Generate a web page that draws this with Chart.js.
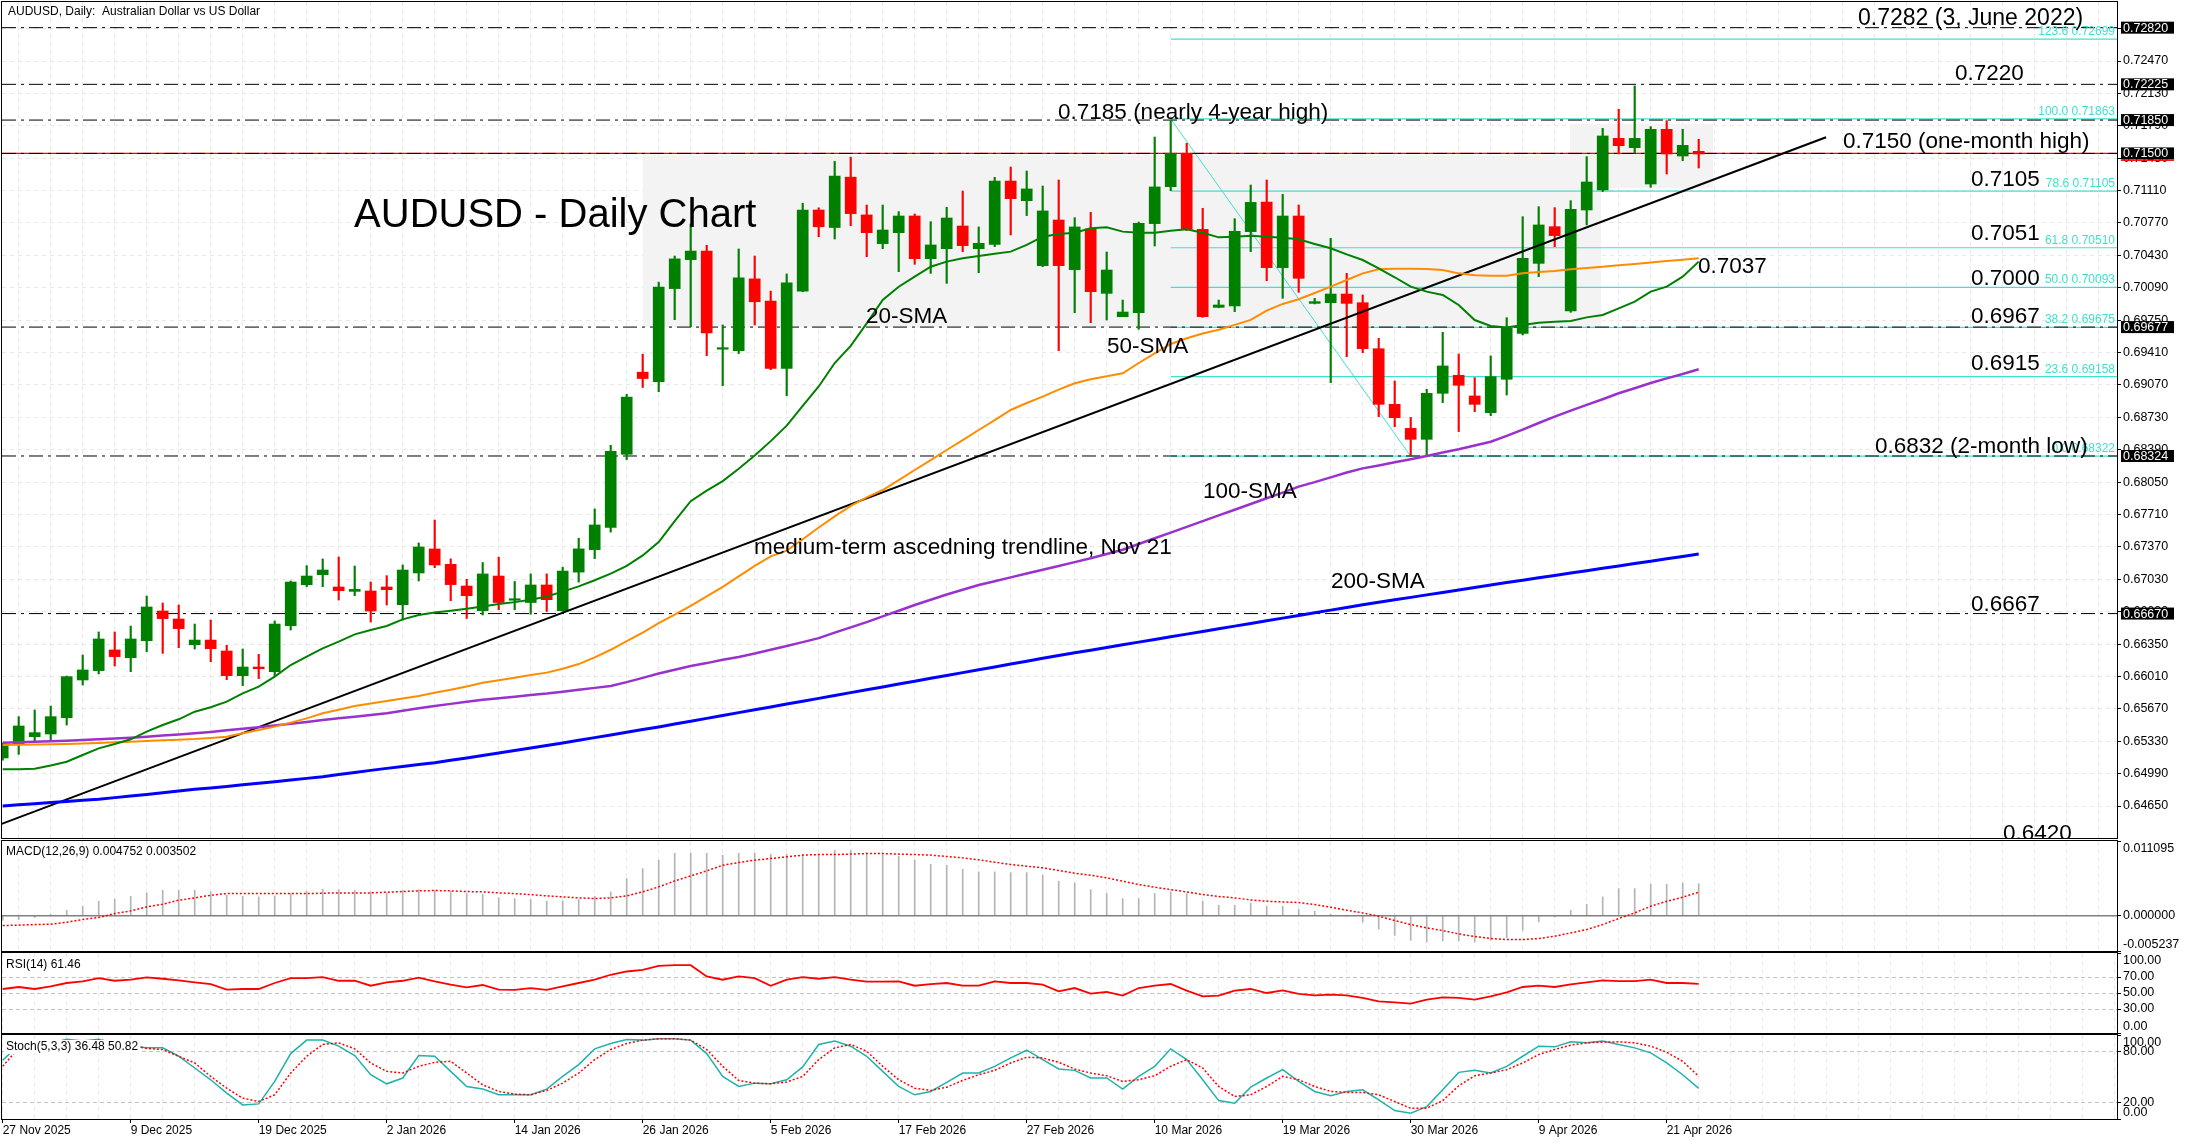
<!DOCTYPE html>
<html>
<head>
<meta charset="utf-8">
<script src="https://cdn.jsdelivr.net/npm/chart.js@4.4.1/dist/chart.umd.min.js"></script>
<style>
  body { margin: 0; background: #fff; }
  #wrap { position: relative; width: 2187px; height: 1143px; overflow: hidden; background: #fff; }
  canvas { position: absolute; left: 0; }
</style>
</head>
<body>
<div id="wrap">
  <canvas id="main" width="2187" height="840" style="top:0;width:2187px;height:840px"></canvas>
  <canvas id="macd" width="2187" height="112" style="top:840px;width:2187px;height:112px"></canvas>
  <canvas id="rsi" width="2187" height="82" style="top:952px;width:2187px;height:82px"></canvas>
  <canvas id="stoch" width="2187" height="109" style="top:1034px;width:2187px;height:109px"></canvas>
</div>
<script>
// daily bars, 27 Nov 2025 .. 23 Apr 2026
const dateLabels = ['27 Nov 2025', '9 Dec 2025', '19 Dec 2025', '2 Jan 2026', '14 Jan 2026', '26 Jan 2026',
  '5 Feb 2026', '17 Feb 2026', '27 Feb 2026', '10 Mar 2026', '19 Mar 2026', '30 Mar 2026', '9 Apr 2026', '21 Apr 2026'];

const opens = [
  0.65154, 0.65301, 0.65378, 0.65406, 0.65577, 0.65973, 0.66071, 0.66288, 0.66207, 0.66385,
  0.66697, 0.66613, 0.66343, 0.66392, 0.66277, 0.66018, 0.66109, 0.66060, 0.66543, 0.66973,
  0.67078, 0.66949, 0.66903, 0.66907, 0.66949, 0.66763, 0.67096, 0.67348, 0.67187, 0.66959,
  0.66700, 0.67064, 0.66810, 0.66786, 0.66970, 0.66700, 0.67105, 0.67341, 0.67574, 0.68342,
  0.69204, 0.69103, 0.70081, 0.70385, 0.70475, 0.69445, 0.69429, 0.70183, 0.69950, 0.69242,
  0.70055, 0.70906, 0.70722, 0.71251, 0.70854, 0.70553, 0.70668, 0.70843, 0.70395, 0.70500,
  0.70738, 0.70500, 0.70546, 0.71210, 0.71004, 0.70322, 0.70801, 0.70280, 0.70707, 0.70031,
  0.69786, 0.69828, 0.70763, 0.71151, 0.71501, 0.70703, 0.69884, 0.69898, 0.70679, 0.70990,
  0.70301, 0.70843, 0.69926, 0.69933, 0.70024, 0.69933, 0.69450, 0.68866, 0.68614, 0.68499,
  0.68982, 0.69171, 0.68954, 0.68779, 0.69129, 0.69611, 0.70346, 0.70731, 0.69846, 0.70906,
  0.71116, 0.71658, 0.71560, 0.71179, 0.71753, 0.71473, 0.71522];
const highs = [
  0.65310, 0.65588, 0.65658, 0.65700, 0.66014, 0.66235, 0.66477, 0.66477, 0.66539, 0.66854,
  0.66781, 0.66760, 0.66560, 0.66602, 0.66337, 0.66298, 0.66242, 0.66592, 0.67012, 0.67173,
  0.67243, 0.67264, 0.67169, 0.67001, 0.67068, 0.67180, 0.67411, 0.67652, 0.67244, 0.67030,
  0.67206, 0.67262, 0.67007, 0.67086, 0.67086, 0.67157, 0.67461, 0.67768, 0.68436, 0.68972,
  0.69392, 0.70149, 0.70423, 0.70760, 0.70535, 0.69699, 0.70497, 0.70423, 0.70055, 0.70235,
  0.70977, 0.70929, 0.71416, 0.71461, 0.70958, 0.70958, 0.70889, 0.70864, 0.70784, 0.70934,
  0.71105, 0.70728, 0.71249, 0.71357, 0.71315, 0.71158, 0.71221, 0.70826, 0.70882, 0.70465,
  0.69961, 0.70780, 0.71672, 0.71844, 0.71606, 0.70924, 0.69961, 0.70815, 0.71168, 0.71221,
  0.71070, 0.70959, 0.69979, 0.70609, 0.70241, 0.70014, 0.69559, 0.69111, 0.68730, 0.69024,
  0.69622, 0.69395, 0.69146, 0.69374, 0.69776, 0.70836, 0.70941, 0.70931, 0.71004, 0.71466,
  0.71763, 0.71963, 0.72208, 0.71781, 0.71844, 0.71753, 0.71648];
const lows = [
  0.65130, 0.65192, 0.65336, 0.65343, 0.65500, 0.65920, 0.66036, 0.66120, 0.66060, 0.66270,
  0.66252, 0.66312, 0.66298, 0.66165, 0.65976, 0.65913, 0.65987, 0.66008, 0.66497, 0.66952,
  0.66952, 0.66812, 0.66858, 0.66581, 0.66760, 0.66602, 0.67012, 0.67152, 0.66805, 0.66618,
  0.66655, 0.66711, 0.66711, 0.66663, 0.66692, 0.66692, 0.67000, 0.67247, 0.67525, 0.68286,
  0.69043, 0.68998, 0.69755, 0.69680, 0.69377, 0.69062, 0.69399, 0.69699, 0.69230, 0.68957,
  0.70048, 0.70625, 0.70602, 0.70741, 0.70416, 0.70500, 0.70259, 0.70336, 0.70241, 0.70136,
  0.70469, 0.70248, 0.70521, 0.70644, 0.70847, 0.70311, 0.69430, 0.69828, 0.69723, 0.69751,
  0.69786, 0.69653, 0.70528, 0.71109, 0.70690, 0.69779, 0.69880, 0.69839, 0.70469, 0.70164,
  0.69979, 0.70042, 0.69920, 0.69094, 0.69366, 0.69408, 0.68737, 0.68632, 0.68324, 0.68335,
  0.68884, 0.68580, 0.68789, 0.68747, 0.68964, 0.69594, 0.70206, 0.70521, 0.69832, 0.70749,
  0.71099, 0.71494, 0.71501, 0.71144, 0.71284, 0.71424, 0.71347];
const closes = [
  0.65290, 0.65490, 0.65420, 0.65588, 0.66008, 0.66078, 0.66403, 0.66218, 0.66403, 0.66739,
  0.66617, 0.66511, 0.66392, 0.66301, 0.66018, 0.66109, 0.66091, 0.66560, 0.67001, 0.67064,
  0.67127, 0.66910, 0.66924, 0.66697, 0.66921, 0.67127, 0.67369, 0.67180, 0.66974, 0.66858,
  0.67086, 0.66786, 0.66824, 0.66970, 0.66816, 0.67116, 0.67349, 0.67600, 0.68372, 0.68942,
  0.69137, 0.70096, 0.70393, 0.70475, 0.69616, 0.69460, 0.70194, 0.69943, 0.69242, 0.70141,
  0.70906, 0.70730, 0.71262, 0.70868, 0.70668, 0.70696, 0.70843, 0.70395, 0.70539, 0.70822,
  0.70532, 0.70556, 0.71210, 0.71025, 0.71127, 0.70896, 0.70322, 0.70728, 0.70049, 0.70276,
  0.69835, 0.70766, 0.71148, 0.71501, 0.70703, 0.69786, 0.69909, 0.70682, 0.70986, 0.70301,
  0.70843, 0.70189, 0.69944, 0.70024, 0.69926, 0.69450, 0.68866, 0.68726, 0.68499, 0.68982,
  0.69269, 0.69066, 0.68866, 0.69157, 0.69664, 0.70399, 0.70749, 0.70637, 0.70913, 0.71200,
  0.71683, 0.71581, 0.71658, 0.71753, 0.71494, 0.71585, 0.71494];

const sma20 = [
  0.65035, 0.65035, 0.65040, 0.65075, 0.65115, 0.65185, 0.65255, 0.65300, 0.65350, 0.65430,
  0.65500, 0.65560, 0.65640, 0.65686, 0.65745, 0.65833, 0.65903, 0.66008, 0.66130, 0.66218,
  0.66305, 0.66375, 0.66452, 0.66497, 0.66539, 0.66609, 0.66655, 0.66680, 0.66700, 0.66720,
  0.66745, 0.66770, 0.66790, 0.66815, 0.66850, 0.66900, 0.66955, 0.67020, 0.67090, 0.67170,
  0.67280, 0.67420, 0.67640, 0.67850, 0.67960, 0.68060, 0.68190, 0.68330, 0.68480, 0.68642,
  0.68850, 0.69054, 0.69300, 0.69480, 0.69716, 0.69961, 0.70101, 0.70206, 0.70311, 0.70364,
  0.70399, 0.70423, 0.70446, 0.70469, 0.70539, 0.70626, 0.70654, 0.70668, 0.70714, 0.70724,
  0.70679, 0.70668, 0.70668, 0.70689, 0.70703, 0.70668, 0.70619, 0.70626, 0.70636, 0.70626,
  0.70615, 0.70598, 0.70550, 0.70504, 0.70440, 0.70381, 0.70294, 0.70200, 0.70101, 0.70049,
  0.70014, 0.69909, 0.69751, 0.69688, 0.69674, 0.69699, 0.69723, 0.69734, 0.69740, 0.69779,
  0.69804, 0.69874, 0.69944, 0.70049, 0.70101, 0.70206, 0.70364];
const sma50 = [
  0.65290, 0.65293, 0.65296, 0.65299, 0.65301, 0.65306, 0.65312, 0.65318, 0.65325, 0.65332,
  0.65339, 0.65346, 0.65353, 0.65365, 0.65378, 0.65413, 0.65448, 0.65483, 0.65525, 0.65570,
  0.65623, 0.65660, 0.65700, 0.65726, 0.65752, 0.65778, 0.65805, 0.65838, 0.65870, 0.65905,
  0.65943, 0.65970, 0.65997, 0.66025, 0.66050, 0.66090, 0.66140, 0.66210, 0.66290, 0.66380,
  0.66470, 0.66570, 0.66660, 0.66750, 0.66850, 0.66950, 0.67060, 0.67170, 0.67270, 0.67330,
  0.67450, 0.67574, 0.67690, 0.67800, 0.67890, 0.67967, 0.68070, 0.68177, 0.68280, 0.68387,
  0.68490, 0.68597, 0.68700, 0.68807, 0.68880, 0.68947, 0.69020, 0.69087, 0.69130, 0.69160,
  0.69192, 0.69300, 0.69400, 0.69500, 0.69560, 0.69610, 0.69650, 0.69700, 0.69752, 0.69850,
  0.69920, 0.69969, 0.70035, 0.70101, 0.70171, 0.70241, 0.70283, 0.70290, 0.70290, 0.70286,
  0.70276, 0.70241, 0.70220, 0.70215, 0.70215, 0.70241, 0.70255, 0.70266, 0.70283, 0.70297,
  0.70311, 0.70325, 0.70339, 0.70355, 0.70371, 0.70385, 0.70399];
const sma100 = [
  0.65315, 0.65320, 0.65325, 0.65330, 0.65336, 0.65343, 0.65351, 0.65359, 0.65367, 0.65378,
  0.65390, 0.65401, 0.65413, 0.65428, 0.65444, 0.65460, 0.65476, 0.65495, 0.65514, 0.65533,
  0.65553, 0.65570, 0.65588, 0.65605, 0.65623, 0.65650, 0.65675, 0.65700, 0.65722, 0.65744,
  0.65765, 0.65781, 0.65797, 0.65814, 0.65830, 0.65850, 0.65870, 0.65890, 0.65910, 0.65950,
  0.65995, 0.66040, 0.66080, 0.66120, 0.66150, 0.66185, 0.66215, 0.66250, 0.66290, 0.66330,
  0.66370, 0.66412, 0.66470, 0.66525, 0.66580, 0.66640, 0.66700, 0.66760, 0.66815, 0.66870,
  0.66920, 0.66970, 0.67010, 0.67050, 0.67090, 0.67130, 0.67170, 0.67210, 0.67250, 0.67295,
  0.67340, 0.67400, 0.67460, 0.67520, 0.67580, 0.67640, 0.67700, 0.67760, 0.67820, 0.67880,
  0.67940, 0.68002, 0.68050, 0.68100, 0.68150, 0.68194, 0.68225, 0.68258, 0.68290, 0.68324,
  0.68360, 0.68395, 0.68435, 0.68474, 0.68535, 0.68600, 0.68670, 0.68737, 0.68800, 0.68860,
  0.68920, 0.68982, 0.69035, 0.69090, 0.69139, 0.69185, 0.69234];
const sma200 = [
  0.64650, 0.64662, 0.64674, 0.64686, 0.64698, 0.64710, 0.64722, 0.64738, 0.64755, 0.64772,
  0.64790, 0.64808, 0.64825, 0.64840, 0.64856, 0.64872, 0.64888, 0.64905, 0.64922, 0.64940,
  0.64958, 0.64980, 0.65002, 0.65024, 0.65045, 0.65065, 0.65085, 0.65105, 0.65130, 0.65155,
  0.65180, 0.65206, 0.65232, 0.65258, 0.65285, 0.65312, 0.65340, 0.65368, 0.65396, 0.65424,
  0.65452, 0.65480, 0.65510, 0.65540, 0.65570, 0.65600, 0.65630, 0.65660, 0.65690, 0.65720,
  0.65750, 0.65780, 0.65810, 0.65840, 0.65870, 0.65900, 0.65930, 0.65960, 0.65990, 0.66020,
  0.66050, 0.66080, 0.66110, 0.66140, 0.66170, 0.66200, 0.66230, 0.66258, 0.66286, 0.66314,
  0.66342, 0.66370, 0.66398, 0.66426, 0.66454, 0.66482, 0.66510, 0.66538, 0.66566, 0.66594,
  0.66622, 0.66650, 0.66678, 0.66706, 0.66734, 0.66762, 0.66788, 0.66814, 0.66840, 0.66866,
  0.66892, 0.66918, 0.66944, 0.66970, 0.66995, 0.67020, 0.67045, 0.67070, 0.67095, 0.67120,
  0.67145, 0.67170, 0.67195, 0.67220, 0.67245, 0.67270, 0.67295];

const macdMain = [
  -0.00070, -0.00057, -0.00027, 0.00020, 0.00079, 0.00140, 0.00215, 0.00245, 0.00289, 0.00339,
  0.00378, 0.00378, 0.00378, 0.00354, 0.00304, 0.00289, 0.00280, 0.00294, 0.00329, 0.00364,
  0.00393, 0.00388, 0.00378, 0.00354, 0.00339, 0.00378, 0.00388, 0.00378, 0.00364, 0.00329,
  0.00319, 0.00265, 0.00255, 0.00240, 0.00215, 0.00215, 0.00240, 0.00289, 0.00354, 0.00552,
  0.00701, 0.00825, 0.00928, 0.00928, 0.00928, 0.00899, 0.00928, 0.00928, 0.00913, 0.00913,
  0.00899, 0.00913, 0.00973, 0.00973, 0.00933, 0.00908, 0.00884, 0.00825, 0.00765, 0.00750,
  0.00690, 0.00651, 0.00651, 0.00641, 0.00641, 0.00601, 0.00512, 0.00487, 0.00388, 0.00329,
  0.00255, 0.00255, 0.00329, 0.00354, 0.00329, 0.00215, 0.00156, 0.00156, 0.00190, 0.00140,
  0.00140, 0.00091, 0.00067, 0.00022, -0.00010, -0.00094, -0.00198, -0.00292, -0.00366, -0.00391,
  -0.00376, -0.00376, -0.00391, -0.00366, -0.00327, -0.00218, -0.00094, -0.00020, 0.00081, 0.00170,
  0.00280, 0.00403, 0.00403, 0.00468, 0.00468, 0.00487, 0.00475];
const macdSignal = [
  -0.00146, -0.00140, -0.00131, -0.00126, -0.00096, -0.00057, -0.00027, 0.00032, 0.00072, 0.00131,
  0.00171, 0.00230, 0.00265, 0.00304, 0.00329, 0.00329, 0.00329, 0.00329, 0.00329, 0.00329,
  0.00334, 0.00339, 0.00339, 0.00339, 0.00349, 0.00359, 0.00369, 0.00374, 0.00369, 0.00359,
  0.00354, 0.00339, 0.00329, 0.00314, 0.00294, 0.00280, 0.00265, 0.00255, 0.00265, 0.00294,
  0.00354, 0.00428, 0.00517, 0.00591, 0.00666, 0.00750, 0.00790, 0.00825, 0.00850, 0.00874,
  0.00900, 0.00908, 0.00908, 0.00915, 0.00923, 0.00923, 0.00915, 0.00908, 0.00900, 0.00879,
  0.00859, 0.00830, 0.00795, 0.00760, 0.00736, 0.00711, 0.00672, 0.00632, 0.00602, 0.00562,
  0.00513, 0.00463, 0.00423, 0.00388, 0.00354, 0.00314, 0.00285, 0.00265, 0.00235, 0.00215,
  0.00205, 0.00196, 0.00166, 0.00126, 0.00082, 0.00042, -0.00007, -0.00072, -0.00131, -0.00181,
  -0.00220, -0.00270, -0.00309, -0.00339, -0.00354, -0.00354, -0.00339, -0.00304, -0.00255, -0.00205,
  -0.00131, -0.00042, 0.00042, 0.00141, 0.00215, 0.00275, 0.00350];

const rsi14 = [
  55.0, 57.5, 55.0, 58.3, 62.5, 64.5, 68.6, 65.3, 66.6, 69.5,
  67.8, 65.7, 63.3, 61.2, 54.2, 55.0, 55.0, 62.5, 68.6, 68.6,
  69.9, 65.3, 65.3, 59.1, 63.3, 65.3, 69.1, 64.5, 60.4, 57.1,
  60.0, 54.2, 53.8, 56.2, 53.8, 58.3, 62.5, 66.6, 72.8, 76.9,
  79.0, 84.0, 84.8, 84.8, 70.7, 66.6, 70.7, 68.6, 59.1, 66.6,
  69.9, 67.8, 69.9, 66.6, 64.1, 64.1, 64.5, 59.1, 61.2, 62.5,
  59.1, 59.1, 64.5, 62.5, 62.5, 60.4, 52.1, 56.2, 49.2, 51.3,
  46.7, 56.2, 59.1, 61.2, 52.9, 45.9, 46.7, 52.9, 55.0, 50.0,
  53.3, 48.8, 47.1, 47.9, 47.1, 43.8, 39.6, 38.4, 36.7, 41.7,
  44.6, 43.8, 41.7, 45.9, 50.9, 57.5, 59.1, 57.5, 60.8, 63.3,
  65.7, 64.9, 64.9, 66.6, 62.5, 62.5, 61.46];

const stochK = [
  70.0, 88.0, 85.0, 90.0, 95.0, 93.0, 95.0, 88.0, 87.0, 84.7,
  84.7, 74.7, 60.7, 46.7, 30.8, 16.8, 18.0, 44.7, 77.9, 93.9,
  93.9, 86.7, 75.5, 52.7, 41.9, 48.8, 75.5, 74.7, 56.7, 38.7,
  35.6, 28.8, 28.8, 28.8, 35.6, 50.7, 64.7, 83.5, 89.9, 94.7,
  93.9, 95.5, 95.5, 93.9, 77.9, 50.7, 38.7, 42.7, 41.9, 46.7,
  62.0, 88.7, 92.7, 86.7, 74.7, 56.7, 38.7, 28.8, 32.8, 43.5,
  54.7, 54.7, 62.7, 72.7, 81.9, 70.7, 59.5, 57.9, 48.8, 48.8,
  35.6, 50.7, 62.7, 83.5, 70.7, 46.7, 21.9, 18.8, 37.9, 48.8,
  58.7, 44.7, 32.8, 27.6, 32.8, 34.8, 22.8, 10.0, 6.8, 14.8,
  34.8, 55.5, 57.9, 54.7, 62.7, 74.7, 86.7, 85.9, 91.9, 90.7,
  92.7, 88.7, 84.7, 78.7, 66.7, 52.7, 36.48];
const stochD = [
  62.7, 84.7, 88.0, 88.0, 90.0, 92.0, 94.0, 92.0, 88.0, 84.0,
  82.7, 74.7, 66.7, 50.7, 36.7, 24.8, 20.8, 28.8, 54.7, 74.7,
  88.7, 90.7, 83.5, 66.7, 56.7, 54.7, 62.7, 67.5, 68.7, 54.7,
  40.7, 32.8, 29.6, 28.8, 34.0, 42.7, 54.7, 70.7, 82.7, 89.9,
  93.9, 95.5, 95.5, 93.9, 82.7, 62.7, 45.9, 42.7, 41.9, 44.0,
  50.7, 70.7, 84.7, 88.7, 80.7, 62.7, 46.7, 36.7, 34.0, 37.9,
  45.9, 52.7, 57.9, 66.7, 73.5, 72.7, 67.5, 59.5, 54.7, 51.5,
  44.7, 46.7, 51.5, 62.7, 70.7, 60.7, 38.7, 26.8, 28.8, 38.7,
  50.7, 46.7, 38.7, 32.8, 31.6, 31.6, 28.8, 20.8, 12.8, 12.8,
  21.9, 39.5, 51.5, 54.7, 58.7, 66.7, 76.7, 82.7, 87.9, 90.7,
  91.5, 91.9, 90.7, 86.7, 79.5, 68.7, 50.82];

// horizontal levels drawn on the chart
const levelPrices = [0.72820, 0.72225, 0.71850, 0.71500, 0.69677, 0.68324, 0.66670];
const currentPrice = 0.71500;
const fibPct = ['123.6', '100.0', '78.6', '61.8', '50.0', '38.2', '23.6', '0.0'];
const fibPrice = [0.72699, 0.71863, 0.71105, 0.70510, 0.70093, 0.69675, 0.69158, 0.68322];
const fibFrom = 73, fibTo = 88;
const trendline = [[-0.17, 0.64456], [113.96, 0.71670]];
const ranges = [[40, 99.9, 0.69677, 0.71480], [97.95, 106.9, 0.71134, 0.71810]];

const priceTicks = [0.64650, 0.64990, 0.65330, 0.65670, 0.66010, 0.66350, 0.66690, 0.67030, 0.67370,
  0.67710, 0.68050, 0.68390, 0.68730, 0.69070, 0.69410, 0.69750, 0.70090, 0.70430, 0.70770,
  0.71110, 0.71450, 0.71790, 0.72130, 0.72470, 0.72810];

const notes = [
  ['AUDUSD - Daily Chart', 21.96, 0.70728, 40],
  ['0.7282 (3, June 2022)', 115.96, 0.72848, 23],
  ['0.7220', 122.02, 0.72271, 22.5],
  ['0.7185 (nearly 4-year high)', 65.96, 0.71861, 22.5],
  ['0.7150 (one-month high)', 115.02, 0.71557, 22.5],
  ['0.7105', 123.02, 0.71158, 22.5],
  ['0.7051', 123.02, 0.70591, 22.5],
  ['0.7037', 105.96, 0.70245, 22.5],
  ['0.7000', 123.02, 0.70119, 22.5],
  ['0.6967', 123.02, 0.69720, 22.5],
  ['0.6915', 123.02, 0.69227, 22.5],
  ['0.6832 (2-month low)', 117.02, 0.68355, 22.5],
  ['0.6667', 123.02, 0.66697, 22.5],
  ['0.6420', 125.02, 0.64293, 22.5],
  ['20-SMA', 53.96, 0.69720, 22.5],
  ['50-SMA', 69.02, 0.69405, 22.5],
  ['100-SMA', 75.02, 0.67883, 22.5],
  ['200-SMA', 83.02, 0.66938, 22.5],
  ['medium-term ascedning trendline, Nov 21', 46.96, 0.67295, 22.5]
];

const FONT = '"Liberation Sans", Arial, Helvetica, sans-serif';
Chart.defaults.font.family = FONT;
Chart.defaults.color = '#000';

const X_MIN = -0.04375, X_MAX = 132.14375;
const gridBars = [];
for (let b = 0; b <= 132; b += 2) gridBars.push(b);

const idx = opens.map((_, i) => i);
const candleColor = idx.map(i => closes[i] >= opens[i] ? '#008000' : '#ff0000');
const pts = arr => arr.map((v, i) => ({ x: i, y: v }));
const hline = (p, from) => [{ x: from, y: p }, { x: X_MAX, y: p }];

function noPad(s) { s.paddingTop = 0; s.paddingBottom = 0; s.paddingLeft = 0; s.paddingRight = 0; }

function xAxis(withLabels) {
  return {
    type: 'linear', min: X_MIN, max: X_MAX, offset: false,
    afterBuildTicks: s => { s.ticks = gridBars.map(v => ({ value: v })); },
    afterFit: s => { s.height = withLabels ? 24 : 0; noPad(s); },
    grid: {
      color: '#e8e8e8', lineWidth: 1, drawTicks: withLabels, tickLength: 4,
      tickColor: c => (c.tick && c.tick.value % 8 === 0 && c.tick.value / 8 < dateLabels.length) ? '#000' : 'rgba(0,0,0,0)'
    },
    border: { display: false, dash: [4, 4] },
    ticks: {
      display: withLabels, autoSkip: false, maxRotation: 0, minRotation: 0, align: 'start', padding: 0,
      color: '#000', font: { size: 12 },
      callback: v => (v % 8 === 0 && dateLabels[v / 8]) ? dateLabels[v / 8] : ''
    }
  };
}

function subY(min, max, tickVals, gridVals) {
  return {
    position: 'right', min: min, max: max,
    afterBuildTicks: s => { s.ticks = tickVals.map(v => ({ value: v })); },
    afterFit: s => { s.width = 70; noPad(s); },
    grid: {
      color: c => (c.tick && gridVals.includes(c.tick.value)) ? '#c4c4c4' : 'rgba(0,0,0,0)',
      tickColor: '#000', tickLength: 4
    },
    border: { display: false, dash: [4, 3] },
    ticks: { display: false }
  };
}

const frame = {
  id: 'frame',
  afterDraw(chart) {
    const { ctx, chartArea: ca } = chart;
    const l = Math.round(ca.left) - 0.5, t = Math.round(ca.top) - 0.5;
    const r = Math.round(ca.right) + 0.5, b = Math.round(ca.bottom) + 0.5;
    ctx.save();
    ctx.strokeStyle = '#000';
    ctx.lineWidth = 1;
    ctx.strokeRect(l, t, r - l, b - t);
    ctx.restore();
  }
};

function panelTitle(text, dy) {
  return {
    id: 'ptitle',
    afterDatasetsDraw(chart) {
      const { ctx, chartArea: ca } = chart;
      ctx.save();
      ctx.font = '12px ' + FONT;
      const w = ctx.measureText(text).width;
      ctx.fillStyle = '#fff';
      ctx.fillRect(ca.left + 2, ca.top + dy - 7, w + 4, 14);
      ctx.fillStyle = '#000';
      ctx.textBaseline = 'middle';
      ctx.fillText(text, ca.left + 4, ca.top + dy);
      ctx.restore();
    }
  };
}

function sideLabels(list) {
  return {
    id: 'side',
    afterDraw(chart) {
      const { ctx, chartArea: ca, scales: { y } } = chart;
      ctx.save();
      ctx.font = '12.5px ' + FONT;
      ctx.fillStyle = '#000';
      ctx.textAlign = 'left';
      list.forEach(([v, txt, base]) => {
        let py = y.getPixelForValue(v);
        if (base === 'top') py += 1;
        ctx.textBaseline = base;
        ctx.fillText(txt, ca.right + 6, py);
      });
      ctx.restore();
    }
  };
}

const rangeBoxes = {
  id: 'ranges',
  beforeDatasetsDraw(chart) {
    const { ctx, scales: { x, y } } = chart;
    ctx.save();
    ctx.fillStyle = '#f3f3f3';
    ranges.forEach(([a, b, lo, hi]) => {
      const x0 = x.getPixelForValue(a), x1 = x.getPixelForValue(b);
      const y0 = y.getPixelForValue(hi), y1 = y.getPixelForValue(lo);
      ctx.fillRect(x0, y0, x1 - x0, y1 - y0);
    });
    ctx.restore();
  }
};

const chartNotes = {
  id: 'notes',
  afterDatasetsDraw(chart) {
    const { ctx, chartArea: ca, scales: { x, y } } = chart;
    ctx.save();
    ctx.beginPath();
    ctx.rect(ca.left, ca.top, ca.right - ca.left, ca.bottom - ca.top);
    ctx.clip();
    // fibonacci level captions
    ctx.font = '12px ' + FONT;
    ctx.fillStyle = '#40e0d0';
    ctx.textAlign = 'right';
    ctx.textBaseline = 'alphabetic';
    fibPrice.forEach((p, i) => {
      ctx.fillText(fibPct[i] + ' ' + p.toFixed(5), ca.right - 2, y.getPixelForValue(p) - 4);
    });
    ctx.textAlign = 'left';
    ctx.fillStyle = '#000';
    notes.forEach(([t, bar, price, size]) => {
      ctx.font = size + 'px ' + FONT;
      ctx.fillText(t, x.getPixelForValue(bar), y.getPixelForValue(price));
    });
    ctx.font = '12px ' + FONT;
    ctx.textBaseline = 'middle';
    ctx.fillText('AUDUSD, Daily:  Australian Dollar vs US Dollar', ca.left + 6, ca.top + 10);
    ctx.restore();
  }
};

const priceMarks = {
  id: 'marks',
  afterDraw(chart) {
    const { ctx, chartArea: ca, scales: { y } } = chart;
    ctx.save();
    ctx.font = '12.5px ' + FONT;
    ctx.textBaseline = 'middle';
    levelPrices.forEach(p => {
      const py = y.getPixelForValue(p);
      ctx.fillStyle = '#000';
      ctx.fillRect(ca.right + 4, py - 6, 53, 12);
      if (p === currentPrice) {
        ctx.fillStyle = '#ff0000';
        ctx.fillRect(ca.right + 4, py + 6, 53, 1.5);
      }
      ctx.fillStyle = '#fff';
      ctx.fillText(p.toFixed(5), ca.right + 6, py + 0.5);
    });
    ctx.restore();
  }
};

const lineDs = (data, color, width, order, dash) => ({
  type: 'line', data: data, borderColor: color, borderWidth: width, borderDash: dash || [],
  pointRadius: 0, pointHoverRadius: 0, fill: false, tension: 0, order: order
});

const mainSets = [
  {
    type: 'bar', data: idx.map(i => ({ x: i, y: [opens[i], closes[i]] })),
    backgroundColor: candleColor, borderWidth: 0, barThickness: 11, minBarLength: 1.5, grouped: false, order: 4
  },
  {
    type: 'bar', data: idx.map(i => ({ x: i, y: [lows[i], highs[i]] })),
    backgroundColor: candleColor, borderWidth: 0, barThickness: 1.5, grouped: false, order: 5
  },
  lineDs(pts(sma20), '#008000', 2, 1),
  lineDs(pts(sma50), '#ff8c00', 2, 1),
  lineDs(pts(sma100), '#9932cc', 2.5, 1),
  lineDs(pts(sma200), '#0000ff', 3, 1),
  lineDs(trendline.map(([b, p]) => ({ x: b, y: p })), '#000', 2, 2),
  lineDs([{ x: fibFrom, y: fibPrice[1] }, { x: fibTo, y: fibPrice[7] }], '#40e0d0', 1, 7),
  lineDs(hline(currentPrice, X_MIN), '#ff0000', 1.2, 8)
];
fibPrice.forEach(p => mainSets.push(lineDs(hline(p, fibFrom), '#40e0d0', 1.2, 7)));
levelPrices.forEach(p => mainSets.push(lineDs(hline(p, X_MIN), '#000', 1, 6, [14, 5, 3, 5])));

const common = {
  responsive: false, animation: false, devicePixelRatio: 1, events: [],
  plugins: { legend: { display: false }, tooltip: { enabled: false } }
};

new Chart(document.getElementById('main'), {
  type: 'bar',
  data: { datasets: mainSets },
  options: Object.assign({}, common, {
    layout: { autoPadding: false, padding: { left: 2, top: 2, right: 0, bottom: 2 } },
    scales: {
      x: xAxis(false),
      y: {
        position: 'right', min: 0.643142, max: 0.730893,
        afterBuildTicks: s => { s.ticks = priceTicks.map(v => ({ value: v })); },
        afterFit: s => { s.width = 70; noPad(s); },
        grid: { color: '#e8e8e8', tickColor: '#000', tickLength: 4 },
        border: { display: false, dash: [4, 4] },
        ticks: { color: '#000', padding: 2, font: { size: 12.5 }, callback: v => v.toFixed(5) }
      }
    }
  }),
  plugins: [rangeBoxes, chartNotes, priceMarks, frame]
});

new Chart(document.getElementById('macd'), {
  type: 'bar',
  data: {
    datasets: [
      { type: 'bar', data: pts(macdMain), backgroundColor: '#b4b4b4', borderWidth: 0, barThickness: 1, grouped: false, order: 3 },
      lineDs([{ x: X_MIN, y: 0 }, { x: X_MAX, y: 0 }], '#808080', 1.5, 2),
      lineDs(pts(macdSignal), '#ff0000', 1.5, 1, [2, 2])
    ]
  },
  options: Object.assign({}, common, {
    layout: { autoPadding: false, padding: { left: 2, top: 1, right: 0, bottom: 1 } },
    scales: { x: xAxis(false), y: subY(-0.005237, 0.011095, [-0.005237, 0, 0.011095], []) }
  }),
  plugins: [frame, panelTitle('MACD(12,26,9) 0.004752 0.003502', 11),
    sideLabels([[0.011095, '0.011095', 'top'], [0, '0.000000', 'middle'], [-0.005237, '-0.005237', 'bottom']])]
});

new Chart(document.getElementById('rsi'), {
  type: 'line',
  data: { datasets: [lineDs(pts(rsi14), '#ff0000', 1.8, 1)] },
  options: Object.assign({}, common, {
    layout: { autoPadding: false, padding: { left: 2, top: 1, right: 0, bottom: 1 } },
    scales: { x: xAxis(false), y: subY(0, 100, [0, 30, 50, 70, 100], [30, 50, 70]) }
  }),
  plugins: [frame, panelTitle('RSI(14) 61.46', 12),
    sideLabels([[100, '100.00', 'top'], [70, '70.00', 'middle'], [50, '50.00', 'middle'], [30, '30.00', 'middle'], [0, '0.00', 'bottom']])]
});

new Chart(document.getElementById('stoch'), {
  type: 'line',
  data: {
    datasets: [
      lineDs(pts(stochK), '#20b2aa', 1.5, 2),
      lineDs(pts(stochD), '#ff0000', 1.5, 1, [2, 2])
    ]
  },
  options: Object.assign({}, common, {
    layout: { autoPadding: false, padding: { left: 2, top: 1, right: 0, bottom: 0 } },
    scales: { x: xAxis(true), y: subY(0, 100, [0, 20, 80, 100], [20, 80]) }
  }),
  plugins: [frame, panelTitle('Stoch(5,3,3) 36.48 50.82', 12),
    sideLabels([[100, '100.00', 'top'], [80, '80.00', 'middle'], [20, '20.00', 'middle'], [0, '0.00', 'bottom']])]
});
</script>
</body>
</html>
